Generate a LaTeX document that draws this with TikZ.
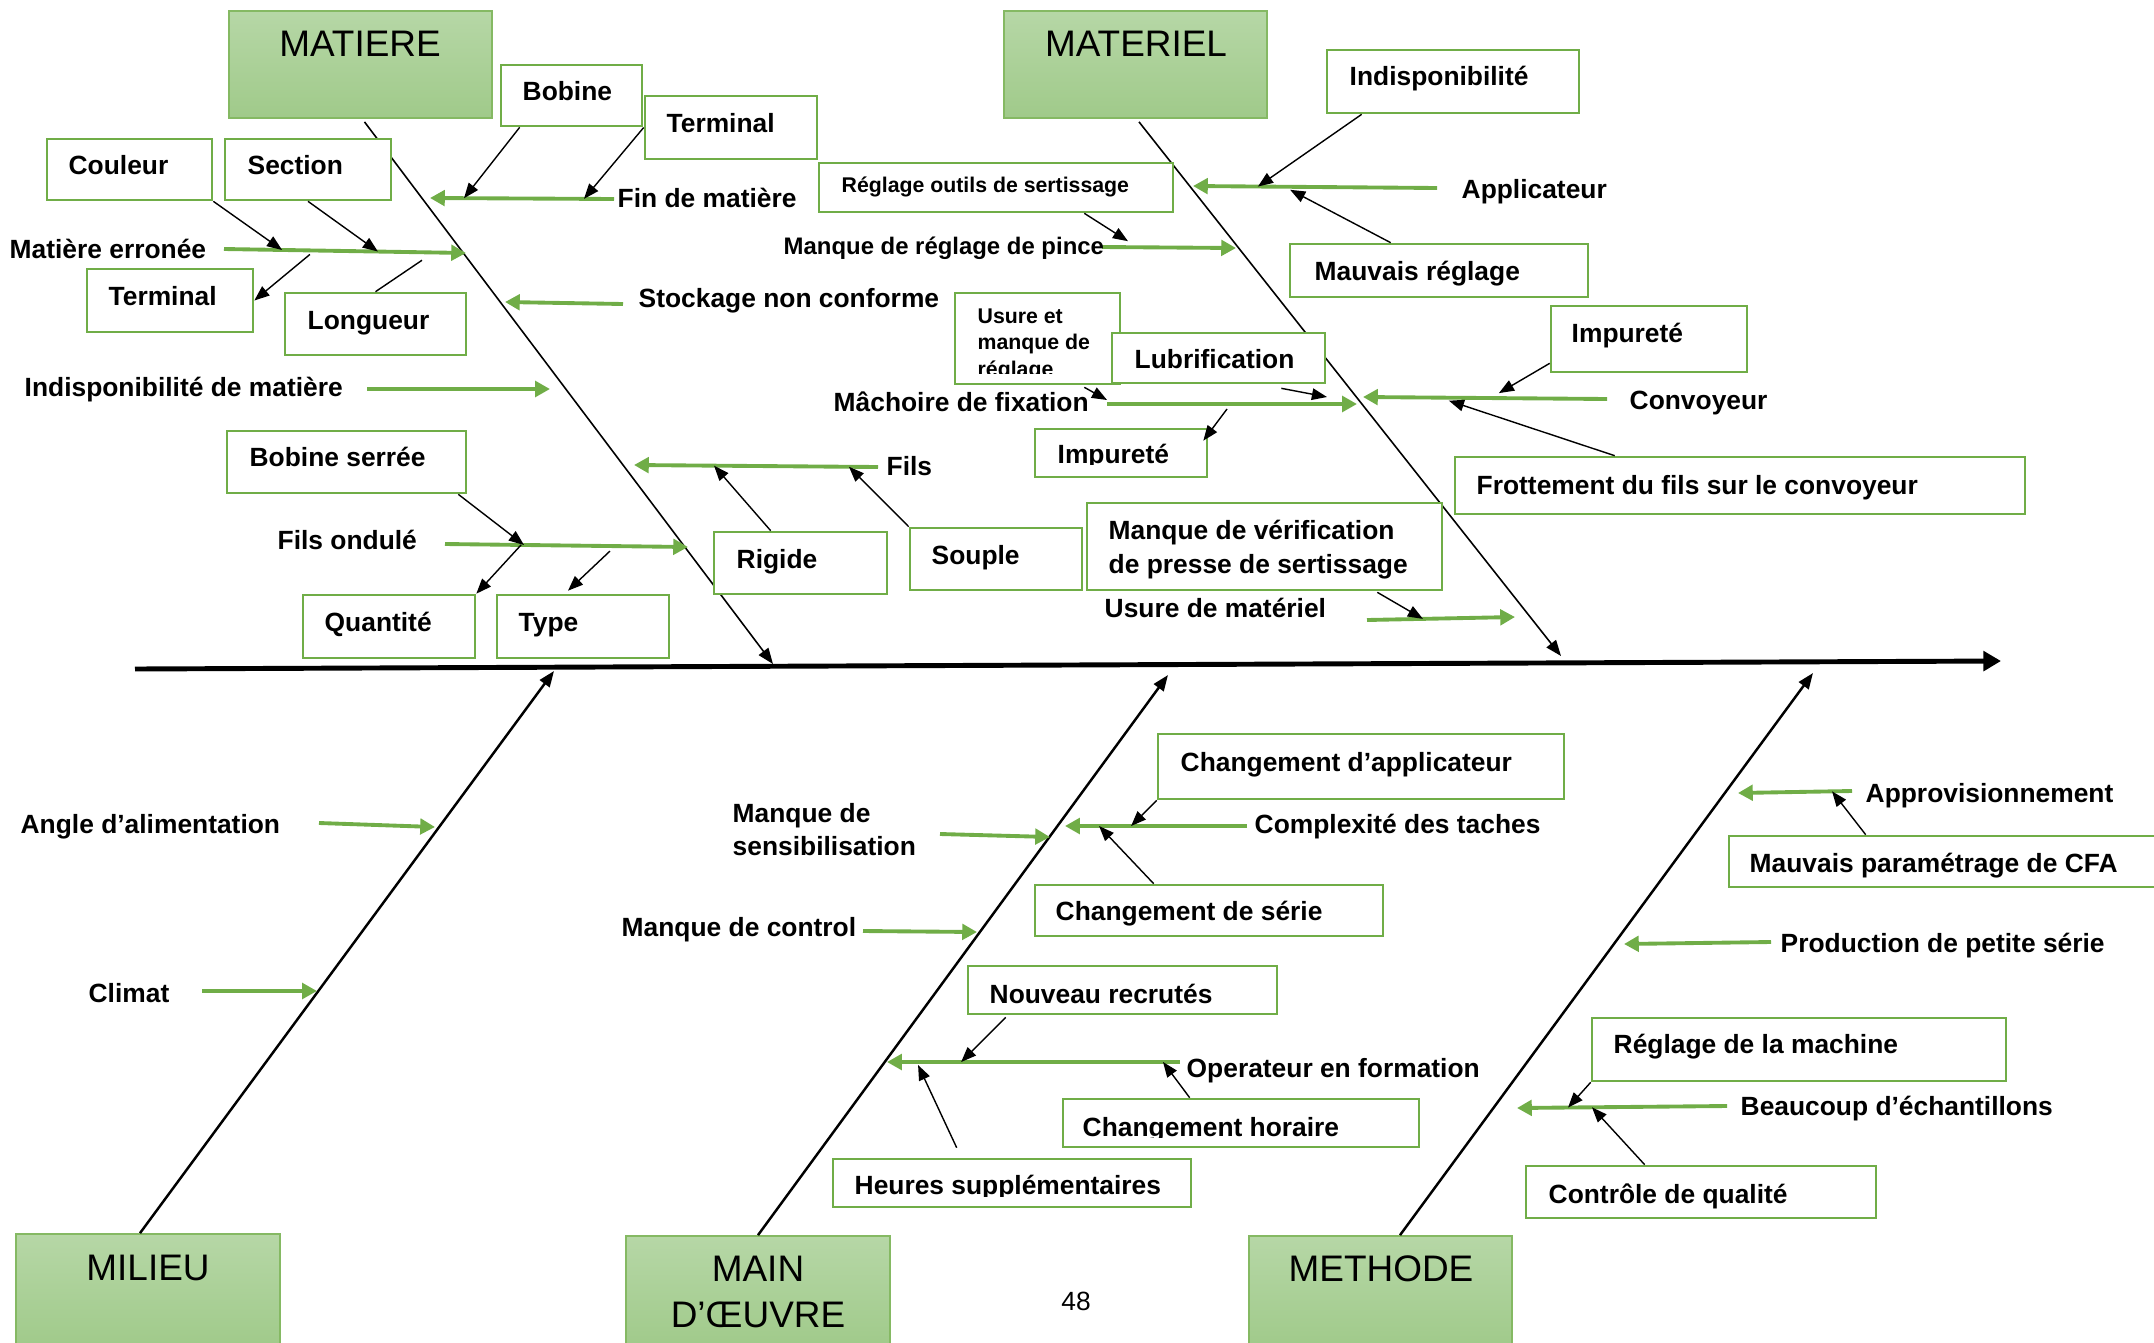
\documentclass[tikz,border=0pt]{standalone}
\usepackage{fontspec}
\setmainfont{Liberation Sans}
\usetikzlibrary{arrows.meta,calc,fit}
\definecolor{lgreen}{HTML}{70AD47}
\definecolor{ftop}{RGB}{182,215,166}
\definecolor{fbot}{RGB}{160,202,138}
\tikzset{
  spine/.style={line width=1.4pt,-{Triangle[length=5pt,width=5.5pt]}},
  boneup/.style={line width=0.45pt,-{Triangle[length=4.5pt,width=3.4pt]}},
  bonedn/.style={line width=0.7pt,-{Triangle[length=4.5pt,width=3.4pt]}},
  garrow/.style={lgreen,line width=1.1pt,-{Triangle[length=4.2pt,width=4.4pt]}},
  barrow/.style={black,line width=0.4pt,-{Triangle[length=4.3pt,width=3.3pt]}},
  bline/.style={black,line width=0.4pt},
  gbox/.style={draw=lgreen,line width=0.75pt,fill=white,inner sep=0pt},
  catbox/.style={draw=lgreen!85,line width=0.5pt,top color=ftop,bottom color=fbot,inner sep=0pt},
  lbl/.style={anchor=west,inner sep=0pt,text height=5.37pt,text depth=0pt,
    font=\bfseries\fontsize{7.5}{9}\selectfont},
  lblpince/.style={lbl,text height=4.87pt,font=\bfseries\fontsize{6.8}{8}\selectfont},
  lblsmall/.style={lbl,text height=4.35pt,font=\bfseries\fontsize{6.05}{7}\selectfont},
  cat/.style={inner sep=0pt,text height=7.52pt,text depth=0pt,font=\fontsize{10.5}{12}\selectfont},
  pagenum/.style={inner sep=0pt,text height=5.4pt,text depth=0pt,font=\fontsize{7.5}{9}\selectfont},
}
\begin{document}
\begin{tikzpicture}[x=0.01cm,y=-0.01cm]
\useasboundingbox (0,0) rectangle (2154,1342);

% ---- category boxes ----
\node[catbox,fit={(229,11)(492,118)}] (matiere) {};
\node[catbox,fit={(1004,11)(1267,118)}] (materiel) {};
\node[catbox,fit={(16,1234)(280,1348)}] (milieu) {};
\node[catbox,fit={(626,1236)(890,1348)}] (maindo) {};
\node[catbox,fit={(1249,1236)(1512,1348)}] (methode) {};
\node[cat] (matiere-t) at (360,43) {MATIERE};
\node[cat] (materiel-t) at (1136,43) {MATERIEL};
\node[cat] (milieu-t) at (148,1267) {MILIEU};
\node[cat] (maindo-t1) at (758,1268) {MAIN};
\node[cat] (maindo-t2) at (758,1314) {D’ŒUVRE};
\node[cat] (methode-t) at (1381,1268) {METHODE};
\node[pagenum] (page) at (1076,1301) {48};

% ---- spine and bones ----
\coordinate (sp1) at (135,669);
\coordinate (sp2) at (2001,661);
\draw[spine] (sp1) -- (sp2);
\coordinate (tipA) at (773,664);
\coordinate (tipB) at (1561,656);
\coordinate (tipC) at (554,671);
\coordinate (tipD) at (1168,675);
\coordinate (tipE) at (1813,673);
\draw[boneup] ($(matiere.south)+(4,3)$) -- (tipA);
\draw[boneup] ($(materiel.south)+(3.5,3)$) -- (tipB);
\draw[bonedn] ($(milieu.north)+(-8,0)$) -- (tipC);
\draw[bonedn] (maindo.north) -- (tipD);
\draw[bonedn] ($(methode.north)+(19.5,0)$) -- (tipE);

% ---- green cause arrows ----
\coordinate (G1s) at (614,199);   \coordinate (G1e) at (430,198);
\coordinate (G2s) at (224,249);   \coordinate (G2e) at (466,253);
\coordinate (G3s) at (623,304);   \coordinate (G3e) at (505,302);
\coordinate (G4s) at (367,389);   \coordinate (G4e) at (550,389);
\coordinate (G5s) at (878,467);   \coordinate (G5e) at (634,465);
\coordinate (G6s) at (445,544);   \coordinate (G6e) at (688,547);
\coordinate (G7s) at (1102,247);  \coordinate (G7e) at (1236,248);
\coordinate (G8s) at (1437,188);  \coordinate (G8e) at (1193,186);
\coordinate (G9s) at (1107,404);  \coordinate (G9e) at (1357,404);
\coordinate (G10s) at (1607,399); \coordinate (G10e) at (1363,397);
\coordinate (G11s) at (1367,620); \coordinate (G11e) at (1515,617);
\coordinate (G12s) at (319,823);  \coordinate (G12e) at (435,827);
\coordinate (G13s) at (202,991);  \coordinate (G13e) at (317,991);
\coordinate (G14s) at (940,834);  \coordinate (G14e) at (1050,837);
\coordinate (G15s) at (863,931);  \coordinate (G15e) at (977,932);
\coordinate (G16s) at (1247,826); \coordinate (G16e) at (1065,826);
\coordinate (G17s) at (1180,1062);\coordinate (G17e) at (887,1062);
\coordinate (G18s) at (1852,791); \coordinate (G18e) at (1738,793);
\coordinate (G19s) at (1771,942); \coordinate (G19e) at (1624,944);
\coordinate (G20s) at (1727,1106);\coordinate (G20e) at (1517,1108);
\foreach \g in {1,...,20} {\draw[garrow] (G\g s) -- (G\g e);}

% ---- sub-cause boxes ----
\node[gbox,fit={(47,139)(212,200)}] (couleur) {};
\node[gbox,fit={(225,139)(391,200)}] (section) {};
\node[gbox,fit={(87,269)(253,332)}] (terminal2) {};
\node[gbox,fit={(285,293)(466,355)}] (longueur) {};
\node[gbox,fit={(501,65)(642,126)}] (bobine) {};
\node[gbox,fit={(645,96)(817,159)}] (terminal1) {};
\node[gbox,fit={(227,431)(466,493)}] (bobserr) {};
\node[gbox,fit={(303,595)(475,658)}] (quantite) {};
\node[gbox,fit={(497,595)(669,658)}] (type) {};
\node[gbox,fit={(714,532)(887,594)}] (rigide) {};
\node[gbox,fit={(910,528)(1082,590)}] (souple) {};
\node[gbox,fit={(819,163)(1173,212)}] (reglout) {};
\node[gbox,fit={(1327,50)(1579,113)}] (indispo) {};
\node[gbox,fit={(1290,244)(1588,297)}] (mauvreg) {};
\node[gbox,fit={(955,293)(1120,384)}] (usure) {};
\node[gbox,fit={(1112,333)(1325,383)}] (lubrif) {};
\node[gbox,fit={(1035,429)(1207,477)}] (impur2) {};
\node[gbox,fit={(1551,306)(1747,372)}] (impur1) {};
\node[gbox,fit={(1455,457)(2025,514)}] (frott) {};
\node[gbox,fit={(1087,503)(1442,590)}] (manqverif) {};
\node[gbox,fit={(1158,734)(1564,799)}] (chappl) {};
\node[gbox,fit={(1035,885)(1383,936)}] (chserie) {};
\node[gbox,fit={(968,966)(1277,1014)}] (nouveau) {};
\node[gbox,fit={(1063,1099)(1419,1147)}] (chhor) {};
\node[gbox,fit={(833,1159)(1191,1207)}] (heures) {};
\node[gbox,fit={(1729,836)(2175,887)}] (cfa) {};
\node[gbox,fit={(1592,1018)(2006,1081)}] (regmach) {};
\node[gbox,fit={(1526,1166)(1876,1218)}] (controle) {};

% ---- black sub-cause arrows ----
\draw[barrow] ($(bobine.south west)+(20,0)$) -- ($(G1s)!0.815!(G1e)$);
\draw[barrow] (terminal1.west) -- ($(G1s)!0.163!(G1e)$);
\draw[barrow] (couleur.south east) -- ($(G2s)!0.24!(G2e)$);
\draw[barrow] (section.south) -- ($(G2s)!0.636!(G2e)$);
\draw[barrow] ($(G2s)!0.355!(G2e)+(0,4)$) -- (terminal2.east);
\draw[bline] ($(G2s)!0.818!(G2e)+(0,8)$) -- (longueur.north);
\draw[barrow] ($(bobserr.south east)+(-9,0)$) -- ($(G6s)!0.325!(G6e)$);
\draw[barrow] ($(G6s)!0.313!(G6e)$) -- (quantite.north east);
\draw[barrow] ($(G6s)!0.679!(G6e)+(0,5)$) -- ($(type.north)+(-15,-3)$);
\draw[barrow] ($(rigide.north west)+(58,0)$) -- ($(G5s)!0.672!(G5e)$);
\draw[barrow] (souple.north west) -- ($(G5s)!0.119!(G5e)$);
\draw[barrow] ($(reglout.south east)+(-90,0)$) -- ($(G7s)!0.194!(G7e)+(0,-6)$);
\draw[barrow] ($(indispo.south west)+(36,0)$) -- ($(G8s)!0.734!(G8e)$);
\draw[barrow] ($(mauvreg.north west)+(102,0)$) -- ($(G8s)!0.602!(G8e)+(0,3)$);
\draw[barrow] ($(usure.south east)+(-37,2)$) -- ($(G9s)+(0,-4)$);
\draw[barrow] ($(lubrif.south east)+(-45,4)$) -- ($(G9s)!0.88!(G9e)+(0,-7)$);
\draw[barrow] ($(G9s)!0.48!(G9e)+(0,5)$) -- ($(impur2.north east)+(-5,13)$);
\draw[barrow] ($(impur1.south west)+(0,-10)$) -- ($(G10s)!0.443!(G10e)+(0,-5)$);
\draw[barrow] ($(frott.north west)+(161,0)$) -- ($(G10s)!0.648!(G10e)+(0,3)$);
\draw[barrow] ($(manqverif.south east)+(-66,1)$) -- ($(G11s)!0.378!(G11e)$);
\draw[barrow] (chappl.south west) -- ($(G16s)!0.637!(G16e)$);
\draw[barrow] ($(chserie.north west)+(120,0)$) -- ($(G16s)!0.813!(G16e)$);
\draw[barrow] ($(nouveau.south west)+(39,2)$) -- ($(G17s)!0.747!(G17e)$);
\draw[barrow] ($(chhor.north west)+(128,0)$) -- ($(G17s)!0.058!(G17e)$);
\draw[barrow] ($(heures.north west)+(125,-10)$) -- ($(G17s)!0.894!(G17e)+(0,3)$);
\draw[barrow] ($(cfa.north west)+(138,0)$) -- ($(G18s)!0.175!(G18e)$);
\draw[barrow] (regmach.south west) -- ($(G20s)!0.757!(G20e)$);
\draw[barrow] ($(controle.north west)+(120,0)$) -- ($(G20s)!0.643!(G20e)$);

% ---- free cause labels ----
\node[lbl] (fin-t) at (617,198) {Fin de matière};
\node[lbl] (materr-t) at (9,249) {Matière erronée};
\node[lbl] (stock-t) at (638,298) {Stockage non conforme};
\node[lbl] (indmat-t) at (24,387) {Indisponibilité de matière};
\node[lbl] (fils-t) at (886,466) {Fils};
\node[lbl] (filsond-t) at (277,540) {Fils ondulé};
\node[lblpince] (pince-t) at (783,246) {Manque de réglage de pince};
\node[lbl] (appl-t) at (1461,189) {Applicateur};
\node[lbl] (mach-t) at (833,402) {Mâchoire de fixation};
\node[lbl] (conv-t) at (1629,400) {Convoyeur};
\node[lbl] (usmat-t) at (1104,608) {Usure de matériel};
\node[lbl] (angle-t) at (20,824) {Angle d’alimentation};
\node[lbl] (climat-t) at (88,993) {Climat};
\node[lbl] (sens-t1) at (732,813) {Manque de};
\node[lbl] (sens-t2) at (732,846) {sensibilisation};
\node[lbl] (control-t) at (621,927) {Manque de control};
\node[lbl] (complex-t) at (1254,824) {Complexité des taches};
\node[lbl] (operat-t) at (1186,1068) {Operateur en formation};
\node[lbl] (approv-t) at (1865,793) {Approvisionnement};
\node[lbl] (prod-t) at (1780,943) {Production de petite série};
\node[lbl] (beauc-t) at (1740,1106) {Beaucoup d’échantillons};

% ---- box texts ----
\node[lbl] (couleur-t) at (68,165) {Couleur};
\node[lbl] (section-t) at (247,165) {Section};
\node[lbl] (terminal2-t) at (108,296) {Terminal};
\node[lbl] (longueur-t) at (307,320) {Longueur};
\node[lbl] (bobine-t) at (522,91) {Bobine};
\node[lbl] (terminal1-t) at (666,123) {Terminal};
\node[lbl] (bobserr-t) at (249,457) {Bobine serrée};
\node[lbl] (quantite-t) at (324,622) {Quantité};
\node[lbl] (type-t) at (518,622) {Type};
\node[lbl] (rigide-t) at (736,559) {Rigide};
\node[lbl] (souple-t) at (931,555) {Souple};
\node[lblsmall] (reglout-t) at (841,185) {Réglage outils de sertissage};
\node[lbl] (indispo-t) at (1349,76) {Indisponibilité};
\node[lbl] (mauvreg-t) at (1314,271) {Mauvais réglage};
\node[lbl] (lubrif-t) at (1134,359) {Lubrification};
\node[lbl] (impur1-t) at (1571,333) {Impureté};
\node[lbl] (frott-t) at (1476,485) {Frottement du fils sur le convoyeur};
\node[lbl] (manqverif-t1) at (1108,530) {Manque de vérification};
\node[lbl] (manqverif-t2) at (1108,564) {de presse de sertissage};
\node[lbl] (chappl-t) at (1180,762) {Changement d’applicateur};
\node[lbl] (chserie-t) at (1055,911) {Changement de série};
\node[lbl] (nouveau-t) at (989,994) {Nouveau recrutés};
\node[lbl] (cfa-t) at (1749,863) {Mauvais paramétrage de CFA};
\node[lbl] (regmach-t) at (1613,1044) {Réglage de la machine};
\node[lbl] (controle-t) at (1548,1194) {Contrôle de qualité};

% texts cut off by the bottom margin of their boxes
\begin{scope}
  \clip (955,293) rectangle (1120,373);
  \node[lblsmall] (usure-t1) at (977,316) {Usure et};
  \node[lblsmall] (usure-t2) at (977,342) {manque de};
  \node[lblsmall] (usure-t3) at (977,368.5) {réglage};
\end{scope}
\begin{scope}
  \clip (1035,429) rectangle (1207,464);
  \node[lbl] (impur2-t) at (1057,454) {Impureté};
\end{scope}
\begin{scope}
  \clip (1063,1099) rectangle (1419,1137);
  \node[lbl] (chhor-t) at (1082,1127) {Changement horaire};
\end{scope}
\begin{scope}
  \clip (833,1159) rectangle (1191,1196);
  \node[lbl] (heures-t) at (854,1185) {Heures supplémentaires};
\end{scope}
\end{tikzpicture}
\end{document}
